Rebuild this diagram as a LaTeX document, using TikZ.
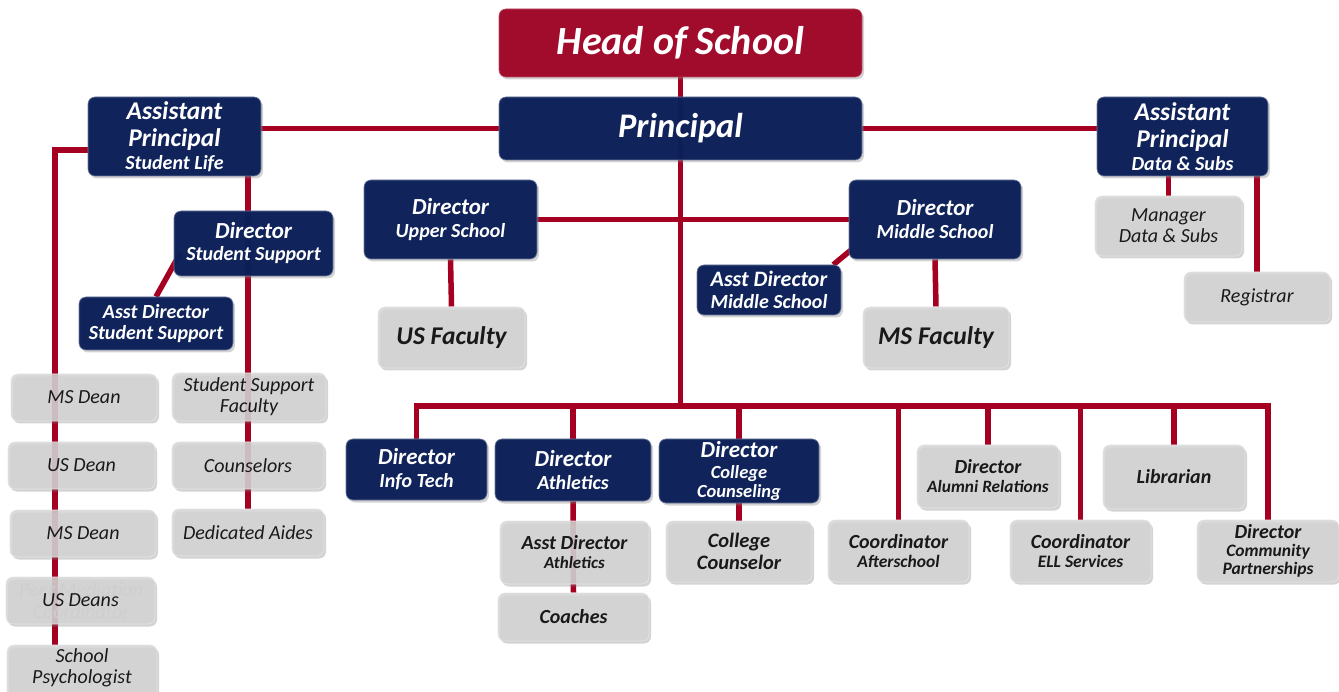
\documentclass[tikz,border=0pt]{standalone}
\usepackage{fontspec}
\setmainfont{Carlito}
\usetikzlibrary{shadows,positioning,calc}

\definecolor{navyfill}{HTML}{0A1F58}
\definecolor{headred}{HTML}{A20C2C}
\definecolor{linkred}{HTML}{A50021}
\definecolor{greyfill}{HTML}{D4D4D4}

\pgfdeclarelayer{background}
\pgfsetlayers{background,main}

\newcommand{\fsz}[2]{\fontsize{#1}{#2}\selectfont}

\begin{document}
\begin{tikzpicture}[x=1pt,y=-1pt,
	box/.style={rounded corners=7pt, inner sep=0pt, align=center,
		drop shadow={shadow xshift=2pt, shadow yshift=-2.5pt, opacity=0.35}},
	dims/.style 2 args={minimum width=#1pt, minimum height=#2pt},
	headbox/.style 2 args={box, fill=headred, draw=headred!75!white, line width=0.6pt,
		text=white, font=\bfseries\itshape\fsz{#1}{#2}},
	leadbox/.style 2 args={box, fill=navyfill, fill opacity=0.97, draw=navyfill!60!white,
		line width=0.6pt, text=white, text opacity=1,
		font=\bfseries\itshape\fsz{#1}{#2}},
	staffbox/.style 2 args={box, fill=greyfill, fill opacity=0.86, draw=white!80!gray,
		line width=0.6pt, text=black!90, text opacity=1,
		font=\bfseries\itshape\fsz{#1}{#2}},
	staffitbox/.style 2 args={staffbox={#1}{#2}, font=\itshape\fsz{#1}{#2}},
	link/.style={draw=linkred, line width=5.5pt}]

	\useasboundingbox (0,0) rectangle (1339,692);
	\clip (0,0) rectangle (1339,692);

	% top of the tree
	\node[headbox={40}{44}, dims={363}{68}] (head) at (680.5,43) {Head of School};
	\node[leadbox={34.5}{38}, dims={363}{63}] (prin) at (680.5,128.5) {Principal};
	\node[leadbox={20}{26}, dims={173}{79}] (apsl) at (174.5,136.5)
		{{\fsz{25.5}{28}Assistant}\\[1pt]{\fsz{25.5}{28}Principal}\\[-3pt]Student Life};
	\node[leadbox={20}{26}, dims={171}{79}] (apds) at (1182.5,136.5)
		{{\fsz{25.5}{28}Assistant}\\[1pt]{\fsz{25.5}{28}Principal}\\[-3pt]Data \& Subs};

	% school directors
	\node[leadbox={20}{23}, dims={173}{79}] (dus) at (450.5,219.5)
		{{\fsz{23}{26}Director}\\Upper School};
	\node[leadbox={20}{23}, dims={172}{79}] (dms) at (935,219.5)
		{{\fsz{23}{26}Director}\\Middle School};
	\node[leadbox={20}{22}, dims={144}{50}] (admsd) at (769,290)
		{{\fsz{22}{24}Asst Director}\\Middle School};
	\node[staffbox={25.5}{28}, dims={147}{61}] (usfac) at (451.5,337.5) {US Faculty};
	\node[staffbox={25.5}{28}, dims={146}{61}] (msfac) at (936,337.5) {MS Faculty};

	% student life branch
	\node[leadbox={20}{22}, dims={159}{65}] (dss) at (253.5,243.5)
		{{\fsz{23}{26}Director}\\Student Support};
	\node[leadbox={20}{21}, dims={154}{53}] (assd) at (156,323.5)
		{Asst Director\\Student Support};
	\node[staffitbox={20}{21}, dims={154}{48}] (ssfac) at (249,397) {Student Support\\Faculty};
	\node[staffitbox={20}{22}, dims={152}{47}] (couns) at (248,465.5) {Counselors};
	\node[staffitbox={20}{22}, dims={152}{47}] (aides) at (248,532.5) {Dedicated Aides};

	\node[staffitbox={20}{22}, dims={146}{47}] (msdeana) at (84,397.5) {MS Dean};
	\node[staffitbox={20}{22}, dims={147}{47}] (usdeana) at (81.5,465.5) {US Dean};
	\node[staffitbox={20}{22}, dims={146}{47}] (msdeanb) at (83,533.5) {MS Dean};
	\node[font=\itshape\fsz{20}{22}, text=black!22, align=center] (peer) at (81,601)
		{Peer Mediation\\Coordinator};
	\node[staffitbox={20}{22}, dims={149}{47}] (usdeans) at (80.5,600.5) {US Deans};
	\node[staffitbox={20}{21}, dims={150}{55}, text depth=12pt] (psych) at (82,672.5)
		{School\\Psychologist};

	% data and subs branch
	\node[staffitbox={20}{21}, dims={147}{60}] (mgr) at (1168.5,226) {Manager\\Data \& Subs};
	\node[staffitbox={20}{22}, dims={146}{50}] (reg) at (1257,297) {Registrar};

	% bottom row
	\node[leadbox={20}{23}, dims={141}{61}] (itech) at (416.5,469.5)
		{{\fsz{23}{26}Director}\\Info Tech};
	\node[leadbox={20}{23}, dims={156}{62}] (ath) at (573,470)
		{{\fsz{23}{26}Director}\\Athletics};
	\node[leadbox={18.5}{19.5}, dims={160}{64}] (ccoun) at (739,471)
		{{\fsz{23}{24}Director}\\[1pt]College\\Counseling};
	\node[staffbox={17}{19}, dims={149}{63}] (aath) at (574.5,552.5)
		{{\fsz{20}{22}Asst Director}\\Athletics};
	\node[staffbox={20}{22}, dims={151}{48}] (coach) at (573.5,617) {Coaches};
	\node[staffbox={20.5}{22}, dims={146}{61}] (ccr) at (739,551.5) {College\\Counselor};
	\node[staffbox={17.3}{19}, dims={142}{63}] (alum) at (988,476.5)
		{{\fsz{20}{22}Director}\\Alumni Relations};
	\node[staffbox={20}{22}, dims={142}{64}] (lib) at (1174,477) {Librarian};
	\node[staffbox={17.5}{19}, dims={141}{62}] (after) at (898.5,551)
		{{\fsz{20}{22}Coordinator}\\Afterschool};
	\node[staffbox={17.5}{19}, dims={141}{62}] (ell) at (1080.5,551)
		{{\fsz{20}{22}Coordinator}\\ELL Services};
	\node[staffbox={17.5}{18}, dims={142}{62}] (cpart) at (1268,551)
		{{\fsz{20}{22}Director}\\Community\\Partnerships};

	\coordinate (bus) at (680.5,406);
	\coordinate (deanbar) at (55,150);

	\begin{pgfonlayer}{background}
		\draw[link] (head.south) -- (bus);
		\draw[link] (prin.west) -- (prin.west -| apsl.east);
		\draw[link] (prin.east) -- (prin.east -| apds.west);

		% student life
		\draw[link] (apsl.west |- deanbar) -- (deanbar) -- (deanbar |- psych.north);
		\draw[link] (apsl.south -| aides.north) -- (aides.north);
		\draw[link] ($(dss.south west)+(7,-24)$) -- (assd.north);

		% upper and middle school
		\draw[link] (dus.east) -- (dms.west);
		\draw[link] (dus.south) -- (usfac.north);
		\draw[link] (dms.south) -- (msfac.north);
		\draw[link] ($(dms.south west)+(2,-9)$) -- ($(admsd.north east)+(-8,0)$);

		% data and subs
		\draw[link] (apds.south -| mgr.north) -- (mgr.north);
		\draw[link] (apds.south -| reg.north) -- (reg.north);

		% bus along the bottom row
		\draw[link] (itech.north) |- (bus) -| (cpart.north);
		\foreach \n in {ath,ccoun,after,alum,ell,lib}
			\draw[link] (\n.north |- bus) -- (\n.north);
		\draw[link] (ath.south) -- (coach.north);
		\draw[link] (ccoun.south) -- (ccr.north);
	\end{pgfonlayer}
\end{tikzpicture}
\end{document}
